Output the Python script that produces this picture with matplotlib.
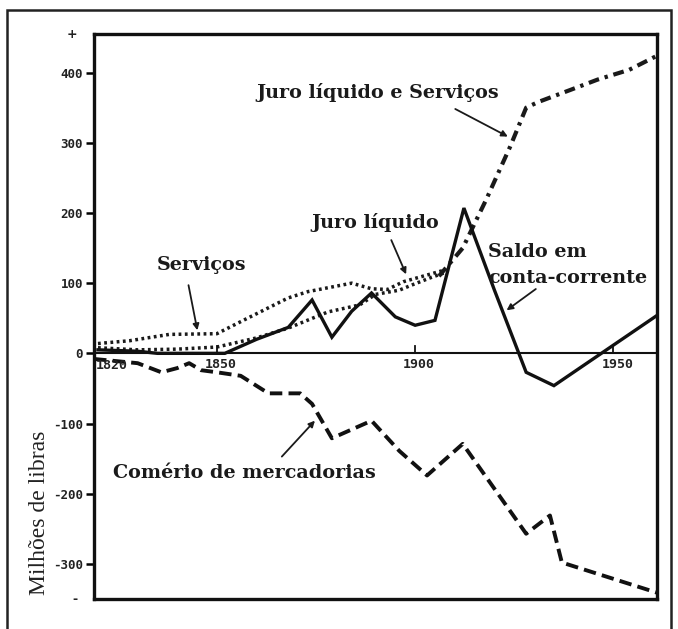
"""
British balance of payments, 1820-1960.

"""

import matplotlib.pyplot as plt
from matplotlib.patches import Rectangle


# values (millions of pounds)

servicos_anos = [1820, 1828, 1838, 1850, 1857, 1868, 1873, 1884, 1889, 1893, 1897, 1902, 1907]
servicos = [14, 18, 27, 28, 48, 79, 88, 100, 92, 91, 102, 110, 118]

juro_anos = [1820, 1830, 1840, 1850, 1860, 1868, 1878, 1886, 1890, 1896, 1899, 1904, 1908]
juro = [8, 5, 6, 9, 22, 36, 59, 69, 84, 90, 97, 108, 116]

juro_serv_anos = [1906, 1912, 1918, 1924, 1928, 1931, 1939, 1946, 1954, 1961]
juro_serv = [110, 150, 220, 295, 350, 358, 375, 390, 404, 424]

saldo_anos = [1820, 1830, 1835, 1852, 1860, 1868, 1874, 1879, 1884, 1889, 1895, 1900, 1905,
              1912.3, 1920, 1928, 1935, 1961]
saldo = [5, 3, 0, 0, 20, 37, 76, 23, 60, 86, 52, 40, 47, 207, 90, -27, -46, 54]

comercio_anos = [1819, 1830, 1836, 1840, 1843, 1846, 1850, 1856, 1863, 1871, 1874, 1879,
                 1889, 1896, 1903, 1912, 1928, 1934, 1937, 1961]
comercio = [-8, -14, -27, -21, -14, -24, -27, -32, -57, -57, -72, -121,
            -96, -139, -174, -129, -257, -231, -298, -341]

ytick_vals = [400, 300, 200, 100, 0, -100, -200, -300]
xtick_vals = [1820, 1850, 1900, 1950]


fig = plt.figure(
    figsize=(6.78, 6.29),
    dpi=100
)

# outer frame
fig.patches.append(
    Rectangle((7 / 678, -0.01), 664 / 678, 1 - 10 / 629 + 0.01,
              transform=fig.transFigure, fill=False,
              edgecolor="#222222", linewidth=1.8)
)

ax = fig.add_axes([94 / 678, 1 - 599 / 629, (657 - 94) / 678, (599 - 34) / 629])

ax.set_xlim(1819, 1961)
ax.set_ylim(-350, 455)

ax.plot(servicos_anos, servicos, color="#1a1a1a", lw=2.5, linestyle=(0, (0.8, 1.0)))
ax.plot(juro_anos, juro, color="#1a1a1a", lw=2.5, linestyle=(0, (0.8, 1.0)))
ax.plot(juro_serv_anos, juro_serv, color="#1a1a1a", lw=3.0,
        linestyle=(0, (2.6, 1.4, 0.8, 1.4)))
ax.plot(saldo_anos, saldo, color="#111111", lw=2.4, solid_joinstyle="miter")
ax.plot(comercio_anos, comercio, color="#111111", lw=2.8, linestyle=(0, (3.2, 1.6)))

# zero line with year labels
ax.axhline(0, color="#111111", lw=1.5)

for ano in xtick_vals:
    if ano == 1820:
        ax.text(ano - 0.5, -8, str(ano), ha="left", va="top", fontsize=9.5,
                fontweight="bold", family="DejaVu Sans Mono", color="#222222")
    else:
        ax.text(ano + 1, -6, str(ano), ha="center", va="top", fontsize=9.5,
                fontweight="bold", family="DejaVu Sans Mono", color="#222222")
        ax.plot([ano, ano], [0, 10], color="#111111", lw=1.3)

ax.set_xticks([])
ax.set_yticks(ytick_vals)
ax.set_yticklabels([str(v) for v in ytick_vals], fontsize=9, fontweight="bold",
                   family="DejaVu Sans Mono", color="#222222")
ax.tick_params(axis="y", direction="out", length=6, width=1.8, pad=2)

ax.text(-0.03, 1.0, "+", transform=ax.transAxes, ha="right", va="center",
        fontsize=9, fontweight="bold", color="#222222")
ax.text(-0.03, 0.0, "-", transform=ax.transAxes, ha="right", va="center",
        fontsize=9, fontweight="bold", color="#222222")

for s in ax.spines.values():
    s.set_linewidth(2.4)
    s.set_color("#111111")

# annotations
lab = dict(fontsize=13.8, fontweight="bold", family="DejaVu Serif", color="#1a1a1a")
seta = dict(arrowstyle="-|>", color="#1a1a1a", lw=1.3, mutation_scale=9)

ax.text(1890.6, 372, "Juro líquido e Serviços", ha="center", va="center", **lab)
ax.annotate("", xy=(1924.0, 307), xytext=(1909.5, 350), arrowprops=seta)

ax.text(1889.9, 187, "Juro líquido", ha="center", va="center", **lab)
ax.annotate("", xy=(1898, 109), xytext=(1893.7, 165), arrowprops=seta)

ax.text(1846.2, 126, "Serviços", ha="center", va="center", **lab)
ax.annotate("", xy=(1845.2, 29), xytext=(1842.7, 101), arrowprops=seta)

ax.text(1918.4, 144, "Saldo em", ha="left", va="center", **lab)
ax.text(1918.4, 108, "conta-corrente", ha="left", va="center", **lab)
ax.annotate("", xy=(1922.5, 59), xytext=(1931, 94), arrowprops=seta)

ax.text(1823.8, -171, "Comério de mercadorias", ha="left", va="center", **lab)
ax.annotate("", xy=(1875.2, -93), xytext=(1865.9, -150), arrowprops=seta)

fig.text(40 / 678, 1 - 513 / 629, "Milhões de libras", rotation=90, ha="center",
         va="center", fontsize=17, family="Liberation Serif", color="#222222")

fig.savefig("out.png", dpi=100)
